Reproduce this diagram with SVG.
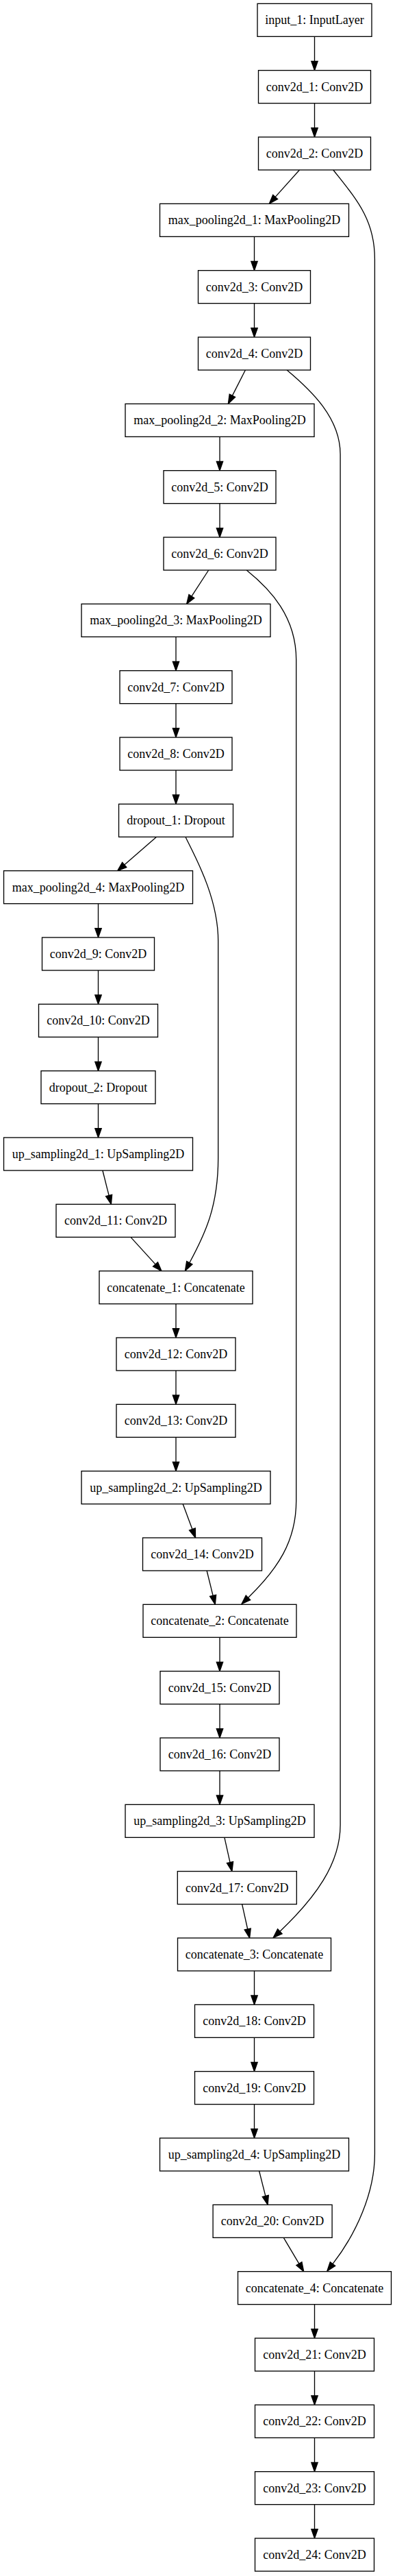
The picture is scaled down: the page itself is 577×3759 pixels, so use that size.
<svg xmlns="http://www.w3.org/2000/svg" width="577" height="3759" viewBox="0 0 577 3759">
<style>
.n rect{fill:#fff;stroke:#000;stroke-width:1.33}
.n text{font-family:"Liberation Serif","Times New Roman",serif;font-size:18px;fill:#000;text-anchor:middle}
.e path{fill:none;stroke:#000;stroke-width:1.33;marker-end:url(#ah)}
</style>
<defs>
<marker id="ah" viewBox="-1 -6 16 12" markerWidth="16" markerHeight="12" refX="0" refY="0" orient="auto" markerUnits="userSpaceOnUse" overflow="visible">
<path d="M0,-4.67 L13.33,0 L0,4.67 Z" fill="#000" stroke="#000" stroke-width="1.33"/>
</marker>
</defs>
<rect x="0" y="0" width="577" height="3759" fill="#fff"/>
<g id="connectors" class="e">
<path d="M459.5,53.33 V89.33"/>
<path d="M459.5,150.67 V186.67"/>
<path d="M437.5,248 L402.2,287.4"/>
<path d="M371.5,345.33 V381.33"/>
<path d="M371.5,442.67 V478.67"/>
<path d="M358.4,540 L339.4,577.4"/>
<path d="M321,637.33 V673.33"/>
<path d="M321,734.67 V770.67"/>
<path d="M304.7,832 L279.9,870.2"/>
<path d="M257,929.33 V965.33"/>
<path d="M257,1026.67 V1062.67"/>
<path d="M257,1124 V1160"/>
<path d="M228.6,1221.33 L181.7,1262"/>
<path d="M143.5,1318.67 V1354.67"/>
<path d="M143.5,1416 V1452"/>
<path d="M143.5,1513.33 V1549.33"/>
<path d="M143.5,1610.67 V1646.67"/>
<path d="M149.9,1708 L159.1,1744.4"/>
<path d="M191,1805.33 L227,1844.9"/>
<path d="M257,1902.67 V1938.67"/>
<path d="M257,2000 V2036"/>
<path d="M257,2097.33 V2133.33"/>
<path d="M267.2,2194.67 L280.9,2231.5"/>
<path d="M302.1,2292 L311.1,2328.4"/>
<path d="M321,2389.33 V2425.33"/>
<path d="M321,2486.67 V2522.67"/>
<path d="M321,2584 V2620"/>
<path d="M327.9,2681.33 L336,2717.7"/>
<path d="M353.6,2778.67 L361.7,2815"/>
<path d="M371.5,2876 V2912"/>
<path d="M371.5,2973.33 V3009.33"/>
<path d="M371.5,3070.67 V3106.67"/>
<path d="M378.6,3168 L387.8,3204.4"/>
<path d="M414.3,3265.33 L436.9,3303.3"/>
<path d="M459.5,3362.67 V3398.67"/>
<path d="M459.5,3460 V3496"/>
<path d="M459.5,3557.33 V3593.33"/>
<path d="M459.5,3654.67 V3690.67"/>
<path d="M486.8,248 C520,290 547.4,320 547.4,378 L547.4,3143 C547.4,3200 520,3260 486,3303.6"/>
<path d="M419.1,540 C455,570 497.1,610 497.1,663 L497.1,2663 C497.1,2720 460,2770 408.8,2818.4"/>
<path d="M360.2,832 C395,860 432.7,900 432.7,963 L432.7,2190 C432.7,2250 405,2290 362.5,2331.4"/>
<path d="M270.9,1221.33 C285,1250 318.7,1310 318.7,1373 L318.7,1690 C318.7,1760 300,1800 276.8,1842.7"/>
</g>
<g id="input_1" class="n"><rect x="376" y="5.33" width="167" height="48"/><text x="459.5" y="35.33">input_1: InputLayer</text></g>
<g id="conv2d_1" class="n"><rect x="377.5" y="102.67" width="164" height="48"/><text x="459.5" y="132.67">conv2d_1: Conv2D</text></g>
<g id="conv2d_2" class="n"><rect x="377.5" y="200" width="164" height="48"/><text x="459.5" y="230">conv2d_2: Conv2D</text></g>
<g id="max_pooling2d_1" class="n"><rect x="233.5" y="297.33" width="276" height="48"/><text x="371.5" y="327.33">max_pooling2d_1: MaxPooling2D</text></g>
<g id="conv2d_3" class="n"><rect x="289.5" y="394.67" width="164" height="48"/><text x="371.5" y="424.67">conv2d_3: Conv2D</text></g>
<g id="conv2d_4" class="n"><rect x="289.5" y="492" width="164" height="48"/><text x="371.5" y="522">conv2d_4: Conv2D</text></g>
<g id="max_pooling2d_2" class="n"><rect x="183" y="589.33" width="276" height="48"/><text x="321" y="619.33">max_pooling2d_2: MaxPooling2D</text></g>
<g id="conv2d_5" class="n"><rect x="239" y="686.67" width="164" height="48"/><text x="321" y="716.67">conv2d_5: Conv2D</text></g>
<g id="conv2d_6" class="n"><rect x="239" y="784" width="164" height="48"/><text x="321" y="814">conv2d_6: Conv2D</text></g>
<g id="max_pooling2d_3" class="n"><rect x="119" y="881.33" width="276" height="48"/><text x="257" y="911.33">max_pooling2d_3: MaxPooling2D</text></g>
<g id="conv2d_7" class="n"><rect x="175" y="978.67" width="164" height="48"/><text x="257" y="1008.67">conv2d_7: Conv2D</text></g>
<g id="conv2d_8" class="n"><rect x="175" y="1076" width="164" height="48"/><text x="257" y="1106">conv2d_8: Conv2D</text></g>
<g id="dropout_1" class="n"><rect x="173.5" y="1173.33" width="167" height="48"/><text x="257" y="1203.33">dropout_1: Dropout</text></g>
<g id="max_pooling2d_4" class="n"><rect x="5.5" y="1270.67" width="276" height="48"/><text x="143.5" y="1300.67">max_pooling2d_4: MaxPooling2D</text></g>
<g id="conv2d_9" class="n"><rect x="61.5" y="1368" width="164" height="48"/><text x="143.5" y="1398">conv2d_9: Conv2D</text></g>
<g id="conv2d_10" class="n"><rect x="56.5" y="1465.33" width="174" height="48"/><text x="143.5" y="1495.33">conv2d_10: Conv2D</text></g>
<g id="dropout_2" class="n"><rect x="60" y="1562.67" width="167" height="48"/><text x="143.5" y="1592.67">dropout_2: Dropout</text></g>
<g id="up_sampling2d_1" class="n"><rect x="5.5" y="1660" width="276" height="48"/><text x="143.5" y="1690">up_sampling2d_1: UpSampling2D</text></g>
<g id="conv2d_11" class="n"><rect x="82" y="1757.33" width="174" height="48"/><text x="169" y="1787.33">conv2d_11: Conv2D</text></g>
<g id="concatenate_1" class="n"><rect x="145" y="1854.67" width="224" height="48"/><text x="257" y="1884.67">concatenate_1: Concatenate</text></g>
<g id="conv2d_12" class="n"><rect x="170" y="1952" width="174" height="48"/><text x="257" y="1982">conv2d_12: Conv2D</text></g>
<g id="conv2d_13" class="n"><rect x="170" y="2049.33" width="174" height="48"/><text x="257" y="2079.33">conv2d_13: Conv2D</text></g>
<g id="up_sampling2d_2" class="n"><rect x="119" y="2146.67" width="276" height="48"/><text x="257" y="2176.67">up_sampling2d_2: UpSampling2D</text></g>
<g id="conv2d_14" class="n"><rect x="208.5" y="2244" width="174" height="48"/><text x="295.5" y="2274">conv2d_14: Conv2D</text></g>
<g id="concatenate_2" class="n"><rect x="209" y="2341.33" width="224" height="48"/><text x="321" y="2371.33">concatenate_2: Concatenate</text></g>
<g id="conv2d_15" class="n"><rect x="234" y="2438.67" width="174" height="48"/><text x="321" y="2468.67">conv2d_15: Conv2D</text></g>
<g id="conv2d_16" class="n"><rect x="234" y="2536" width="174" height="48"/><text x="321" y="2566">conv2d_16: Conv2D</text></g>
<g id="up_sampling2d_3" class="n"><rect x="183" y="2633.33" width="276" height="48"/><text x="321" y="2663.33">up_sampling2d_3: UpSampling2D</text></g>
<g id="conv2d_17" class="n"><rect x="259.3" y="2730.67" width="174" height="48"/><text x="346.3" y="2760.67">conv2d_17: Conv2D</text></g>
<g id="concatenate_3" class="n"><rect x="259.5" y="2828" width="224" height="48"/><text x="371.5" y="2858">concatenate_3: Concatenate</text></g>
<g id="conv2d_18" class="n"><rect x="284.5" y="2925.33" width="174" height="48"/><text x="371.5" y="2955.33">conv2d_18: Conv2D</text></g>
<g id="conv2d_19" class="n"><rect x="284.5" y="3022.67" width="174" height="48"/><text x="371.5" y="3052.67">conv2d_19: Conv2D</text></g>
<g id="up_sampling2d_4" class="n"><rect x="233.5" y="3120" width="276" height="48"/><text x="371.5" y="3150">up_sampling2d_4: UpSampling2D</text></g>
<g id="conv2d_20" class="n"><rect x="311.1" y="3217.33" width="174" height="48"/><text x="398.1" y="3247.33">conv2d_20: Conv2D</text></g>
<g id="concatenate_4" class="n"><rect x="347.5" y="3314.67" width="224" height="48"/><text x="459.5" y="3344.67">concatenate_4: Concatenate</text></g>
<g id="conv2d_21" class="n"><rect x="372.5" y="3412" width="174" height="48"/><text x="459.5" y="3442">conv2d_21: Conv2D</text></g>
<g id="conv2d_22" class="n"><rect x="372.5" y="3509.33" width="174" height="48"/><text x="459.5" y="3539.33">conv2d_22: Conv2D</text></g>
<g id="conv2d_23" class="n"><rect x="372.5" y="3606.67" width="174" height="48"/><text x="459.5" y="3636.67">conv2d_23: Conv2D</text></g>
<g id="conv2d_24" class="n"><rect x="372.5" y="3704" width="174" height="48"/><text x="459.5" y="3734">conv2d_24: Conv2D</text></g>
</svg>
